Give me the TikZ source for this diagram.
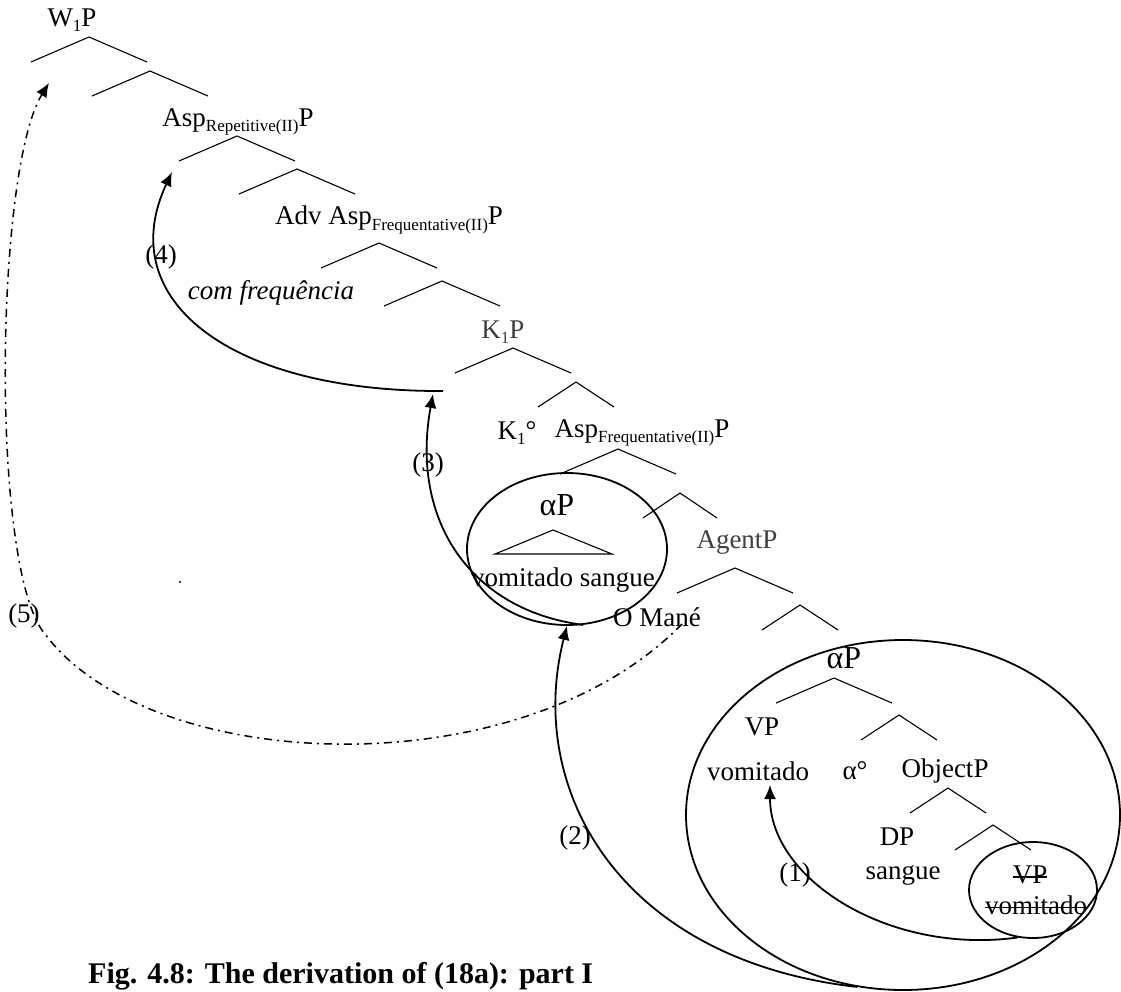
\documentclass[tikz,border=0pt]{standalone}
\usepackage{fontspec}
\setmainfont{Liberation Serif}
\usetikzlibrary{arrows.meta,shapes.geometric}
% lowered small index, as in Asp_{...}P
\newcommand\lowsub[1]{\raisebox{-0.2em}{\fontsize{17}{17}\selectfont #1}}
% word with a line through it (copy left behind by movement)
\newcommand\struckword[1]{\setbox0=\hbox{#1}\rlap{\rule[0.22em]{\wd0}{1.6pt}}\box0}

\begin{document}
\begin{tikzpicture}[x=1pt,y=-1pt,
  lbl/.style={inner sep=0pt, font=\fontsize{27}{30}\selectfont},
  biglbl/.style={inner sep=0pt, font=\fontsize{32}{34}\selectfont},
  pics/fork/.style={code={\draw[line width=1.1pt] (-#1,25) -- (0,0) -- (#1,25);}},
  ring/.style={draw, ellipse, line width=1.8pt, inner sep=0pt},
  move/.style={line width=1.8pt, -{Latex[length=14pt,width=12pt]}},
  longmove/.style={line width=1.5pt, dash pattern=on 8pt off 5pt on 2pt off 5pt,
                   -{Latex[length=14pt,width=12pt]}},
]
\fill[white] (0,0) rectangle (1121,991);
\useasboundingbox (0,0) rectangle (1121,991);

% ---- labels of the tree ----
\node[lbl] (w1p)    at (72,20)   {W\lowsub{1}P};
\node[lbl] (asprep) at (238,122) {Asp\lowsub{Repetitive(II)}P};
\node[lbl] (advasp) at (389,220) {Adv Asp\lowsub{Frequentative(II)}P};
\node[lbl, font=\fontsize{27}{30}\selectfont\itshape] (adv) at (271,293) {com frequência};
\node[lbl, text=black!75] (k1p) at (503,332) {K\lowsub{1}P};
\node[lbl] (k1)     at (517,433) {K\lowsub{1}°};
\node[lbl] (aspfreq) at (642,433) {Asp\lowsub{Frequentative(II)}P};
\node[biglbl] (alphaA) at (557,505) {αP};
\node[lbl] (vs)     at (563,580) {vomitado sangue};
\node[lbl, text=black!75] (agentp) at (737,542) {AgentP};
\node[lbl] (mane)   at (657,617) {O Mané};
\node[biglbl] (alphaB) at (844,658) {αP};
\node[lbl] (vp)     at (762,727) {VP};
\node[lbl] (vom)    at (758,771) {vomitado};
\node[lbl] (alpha0) at (855,771) {α°};
\node[lbl] (objp)   at (945,771) {ObjectP};
\node[lbl] (dp)     at (897,837) {DP};
\node[lbl] (sangue) at (903,875) {sangue};
\node[lbl] (vpcopy) at (1030,875) {\struckword{VP}};
\node[lbl] (vomcopy) at (1036,905) {\struckword{vomitado}};

% ---- branches ----
\pic at (89,37)   {fork=58};
\pic at (150,71)  {fork=58};
\pic at (237,136) {fork=58};
\pic at (297,169) {fork=58};
\pic at (379,243) {fork=58};
\pic at (442,281) {fork=58};
\pic at (513,348) {fork=58};
\pic at (576,382) {fork=38};
\pic at (618,449) {fork=58};
\pic at (680,493) {fork=37};
\pic at (735,568) {fork=58};
\pic at (800,605) {fork=38};
\pic at (834,678) {fork=58};
\pic at (899,715) {fork=38};
\pic at (948,788) {fork=38};
\pic at (993,825) {fork=38};

% collapsed alphaP constituent
\draw[line width=1.1pt] (553,530) -- (612,554) -- (495,554) -- cycle;

% ---- circled constituents ----
\node[ring, minimum width=200pt, minimum height=152pt] (ringA) at (567,549) {};
\node[ring, minimum width=434pt, minimum height=350pt] (ringB) at (903,815) {};
\node[ring, minimum width=128pt, minimum height=96pt]  (ringC) at (1033,890) {};

% ---- movement steps ----
\coordinate (tip1) at (770,785);
\coordinate (tip3) at (433,394);
\coordinate (from4) at (443,391);
\coordinate (tip4) at (172,172);
\coordinate (from5) at (682,624);
\coordinate (tip5) at (49,83);
\coordinate (bend5) at (45,634);

\draw[move] (ringC.252) .. controls (890,955) and (770,880) .. (tip1);
\draw[move] (ringB.255) .. controls (620,960) and (525,790) .. (ringA.south);
\draw[move] (ringA.282) .. controls (470,610) and (410,520) .. (tip3);
\draw[move] (from4) .. controls (230,392) and (112,300) .. (tip4);
\draw[longmove] (from5) .. controls (520,790) and (150,775) .. (bend5)
                .. controls (-10,570) and (-5,170) .. (tip5);

\node[lbl] (step1) at (795,875) {(1)};
\node[lbl] (step2) at (575,838) {(2)};
\node[lbl] (step3) at (428,465) {(3)};
\node[lbl] (step4) at (161,257) {(4)};
\node[lbl] (step5) at (24,616)  {(5)};

\fill (180,582) circle (1.2pt);

% ---- caption ----
\node[anchor=base west, inner sep=0pt, font=\fontsize{30}{32}\selectfont\bfseries]
  (caption) at (88,983) {Fig. 4.8: The derivation of (18a): part I};
\end{tikzpicture}
\end{document}
